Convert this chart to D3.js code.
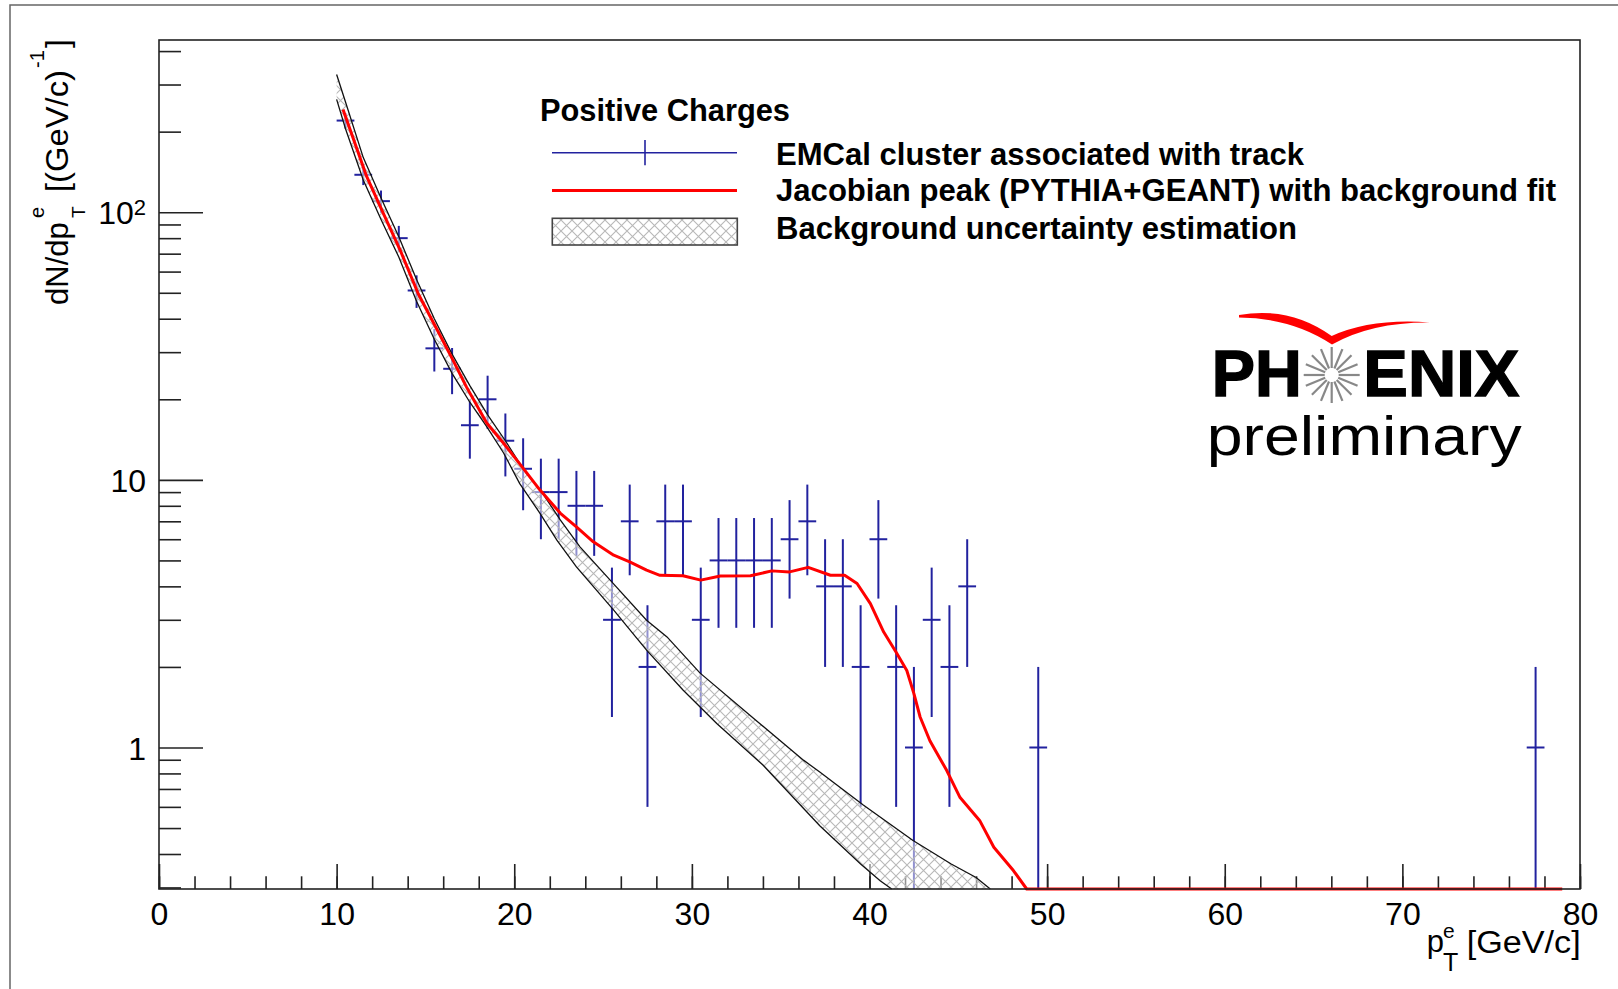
<!DOCTYPE html>
<html>
<head>
<meta charset="utf-8">
<script src="https://cdnjs.cloudflare.com/ajax/libs/d3/7.8.5/d3.min.js"></script>
<style>
body { margin: 0; background: #fff; }
text { font-family: "Liberation Sans", Arial, sans-serif; }
</style>
</head>
<body>
<div id="chart-area"></div>
<script>
const MARGIN = { LEFT: 159, RIGHT: 38, TOP: 40, BOTTOM: 100 }
const WIDTH = 1618 - MARGIN.LEFT - MARGIN.RIGHT
const HEIGHT = 889 - MARGIN.TOP

// ---- data ----
// histogram: 1 GeV bins, counts and their errors
const binCenters = [10.5, 11.5, 12.5, 13.5, 14.5, 15.5, 16.5, 17.5, 18.5, 19.5,
	20.5, 21.5, 22.5, 23.5, 24.5, 25.5, 26.5, 27.5, 28.5, 29.5,
	30.5, 31.5, 32.5, 33.5, 34.5, 35.5, 36.5, 37.5, 38.5, 39.5,
	40.5, 41.5, 42.5, 43.5, 44.5, 45.5, 49.5, 77.5]
const counts = [220, 138, 110, 80, 51, 31, 26, 16, 20, 14,
	11, 9, 9, 8, 8, 3, 7, 2, 7, 7,
	3, 5, 5, 5, 5, 6, 7, 4, 4, 2,
	6, 2, 1, 3, 2, 4, 1, 1]
const countErrors = [14.8, 11.7, 10.5, 8.9, 7.1, 5.6, 5.1, 4.0, 4.5, 3.7,
	3.3, 3.0, 3.0, 2.8, 2.8, 1.7, 2.6, 1.4, 2.6, 2.6,
	1.7, 2.2, 2.2, 2.2, 2.2, 2.4, 2.6, 2.0, 2.0, 1.4,
	2.4, 1.4, 1.0, 1.7, 1.4, 2.0, 1.0, 1.0]
const binHalfWidth = 0.5

// Jacobian peak + background fit (red)
const fitX = [10.36, 11.69, 12.63, 13.57, 14.6, 15.6, 16.55, 17.3, 18.45, 19.4,
	20.3, 21.45, 22.6, 23.5, 24.45, 25.6, 26.5, 27.45, 28.2, 29.5,
	30.5, 31.6, 33.3, 34.5, 35.5, 36.55, 37.8, 38.6, 39.3, 40.05,
	40.8, 41.5, 42.1, 42.5, 42.85, 43.4, 44.35, 45.1, 46.2, 47.0,
	48.1, 48.85, 79.0]
const fitY = [242, 136, 99, 72.4, 49.5, 37, 28, 22.3, 16.3, 13.7,
	11.5, 9.16, 7.5, 6.67, 5.87, 5.23, 4.94, 4.6, 4.4, 4.38,
	4.22, 4.37, 4.38, 4.57, 4.53, 4.71, 4.40, 4.40, 4.10, 3.45,
	2.70, 2.27, 1.94, 1.59, 1.30, 1.06, 0.82, 0.65, 0.534, 0.424,
	0.347, 0.296, 0.296]

// background uncertainty band
const bandUpX = [10.0, 10.5, 11.5, 12.5, 13.5, 14.5, 15.5, 16.5, 17.5, 18.5,
	19.5, 20.5, 21.6, 22.6, 23.7, 25.4, 27.45, 28.6, 30.45, 33.5,
	36.3, 37.2, 39.65, 42.45, 44.6, 46.0, 46.8]
const bandUpY = [327, 258, 160, 113, 81, 56, 40, 29.5, 22.5, 17.5,
	14.0, 11.0, 8.9, 7.07, 5.62, 4.22, 2.99, 2.59, 1.90, 1.28,
	0.895, 0.81, 0.61, 0.449, 0.367, 0.327, 0.296]
const bandLoX = [10.0, 10.5, 11.5, 12.5, 13.5, 14.5, 15.5, 16.5, 17.5, 18.45,
	19.4, 20.3, 21.45, 22.4, 23.5, 25.6, 27.45, 29.5, 31.4, 34.0,
	37.2, 39.5, 40.6, 41.25]
const bandLoY = [264, 205, 132, 94, 68, 46.5, 33.5, 25, 19.5, 15.8,
	12.6, 9.7, 7.5, 5.95, 4.73, 3.26, 2.31, 1.64, 1.23, 0.86,
	0.51, 0.367, 0.318, 0.296]

// axes
const xDomain = [0, 80]
const yDomain = [0.296, 440]
const xMajorTicks = [0, 10, 20, 30, 40, 50, 60, 70, 80]
const xMinorTicks = d3.range(0, 81, 2)
const yMajorTicks = [1, 10, 100]
const yMinorTicks = [0.3, 0.4, 0.5, 0.6, 0.7, 0.8, 0.9, 2, 3, 4, 5, 6, 7, 8, 9,
	20, 30, 40, 50, 60, 70, 80, 90, 200, 300, 400]

const legendLabels = ["EMCal cluster associated with track",
	"Jacobian peak (PYTHIA+GEANT) with background fit",
	"Background uncertainty estimation"]

const BLUE = "#22229f"
const RED = "#ff0000"

const svg = d3.select("#chart-area").append("svg")
	.attr("width", 1618)
	.attr("height", 989)

const defs = svg.append("defs")
const hatch = defs.append("pattern")
	.attr("id", "hatch")
	.attr("patternUnits", "userSpaceOnUse")
	.attr("width", 11)
	.attr("height", 11)
hatch.append("rect").attr("width", 11).attr("height", 11)
	.attr("fill", "#fff").attr("fill-opacity", 0.5)
hatch.append("path")
	.attr("d", "M-1,-1L12,12M12,-1L-1,12")
	.attr("stroke", "#b8b8b8")
	.attr("stroke-width", 1.1)

defs.append("clipPath").attr("id", "plot-clip")
	.append("rect")
	.attr("x", 0).attr("y", 0)
	.attr("width", WIDTH).attr("height", HEIGHT + 2)

// canvas border
svg.append("rect")
	.attr("x", 10).attr("y", 5)
	.attr("width", 1700).attr("height", 1100)
	.attr("fill", "none")
	.attr("stroke", "#666")
	.attr("stroke-width", 1.5)

const g = svg.append("g")
	.attr("transform", `translate(${MARGIN.LEFT}, ${MARGIN.TOP})`)

// scales
const x = d3.scaleLinear().domain(xDomain).range([0, WIDTH])
const y = d3.scaleLog().domain(yDomain).range([HEIGHT, 0]).clamp(true)

// axis generators
const xMinorCall = d3.axisBottom(x).tickValues(xMinorTicks).tickSize(-12.7).tickFormat("")
const xMajorCall = d3.axisBottom(x).tickValues(xMajorTicks).tickSize(-25).tickPadding(13)
const yMinorCall = d3.axisLeft(y).tickValues(yMinorTicks).tickSize(-22).tickFormat("")
const yMajorCall = d3.axisLeft(y).tickValues(yMajorTicks).tickSize(-44).tickPadding(13)
	.tickFormat(d => d === 100 ? "10" : d)

function styleAxis(sel) {
	sel.select(".domain").remove()
	sel.selectAll("line").attr("stroke", "#222").attr("stroke-width", 1.6)
	sel.selectAll("text")
		.attr("fill", "#000")
		.attr("font-size", 32)
		.attr("font-family", "'Liberation Sans', Arial, sans-serif")
}

g.append("g").attr("transform", `translate(0, ${HEIGHT})`).call(xMinorCall).call(styleAxis)
g.append("g").attr("transform", `translate(0, ${HEIGHT})`).call(xMajorCall).call(styleAxis)
g.append("g").call(yMinorCall).call(styleAxis)
const yAxis = g.append("g").call(yMajorCall).call(styleAxis)
yAxis.selectAll("text").attr("dy", "0.36em")
yAxis.selectAll(".tick").filter(d => d === 100).select("text")
	.append("tspan")
	.attr("dy", "-0.42em")
	.attr("font-size", 22)
	.text("2")

// error bars
const plot = g.append("g").attr("clip-path", "url(#plot-clip)")
const points = binCenters.map((c, i) => ({ c, v: counts[i], e: countErrors[i] }))

const bars = plot.append("g")
	.attr("stroke", BLUE)
	.attr("stroke-width", 2)
bars.selectAll(".vbar").data(points).enter().append("line")
	.attr("x1", d => x(d.c)).attr("x2", d => x(d.c))
	.attr("y1", d => y(Math.max(d.v - d.e, 1e-3)))
	.attr("y2", d => y(d.v + d.e))
bars.selectAll(".hbar").data(points).enter().append("line")
	.attr("x1", d => x(d.c - binHalfWidth)).attr("x2", d => x(d.c + binHalfWidth))
	.attr("y1", d => y(d.v)).attr("y2", d => y(d.v))

// uncertainty band
const line = d3.line().x(d => x(d[0])).y(d => y(d[1]))
const upper = bandUpX.map((v, i) => [v, bandUpY[i]])
const lower = bandLoX.map((v, i) => [v, bandLoY[i]])

plot.append("path")
	.attr("d", line(upper.concat(lower.slice().reverse())) + "Z")
	.attr("fill", "url(#hatch)")
	.attr("stroke", "none")
plot.selectAll(".band-edge").data([upper, lower]).enter().append("path")
	.attr("d", d => line(d))
	.attr("fill", "none")
	.attr("stroke", "#111")
	.attr("stroke-width", 1.3)

// fit curve
plot.append("path")
	.attr("d", line(fitX.map((v, i) => [v, fitY[i]])))
	.attr("fill", "none")
	.attr("stroke", RED)
	.attr("stroke-width", 3)
	.attr("stroke-linejoin", "round")

// frame
g.append("rect")
	.attr("width", WIDTH).attr("height", HEIGHT)
	.attr("fill", "none")
	.attr("stroke", "#222")
	.attr("stroke-width", 1.6)

// X title
const xTitle = svg.append("g")
xTitle.append("text").attr("x", 1426.7).attr("y", 951.7).attr("font-size", 31).text("p")
xTitle.append("text").attr("x", 1443).attr("y", 938).attr("font-size", 21).text("e")
xTitle.append("text").attr("x", 1443).attr("y", 971).attr("font-size", 25).text("T")
xTitle.append("text").attr("x", 1466.7).attr("y", 953).attr("font-size", 31)
	.attr("textLength", 114).attr("lengthAdjust", "spacingAndGlyphs").text("[GeV/c]")

// Y title (rotated)
const yTitle = svg.append("g").attr("transform", "translate(68, 305) rotate(-90)")
yTitle.append("text").attr("x", 0).attr("y", 0).attr("font-size", 31).text("dN/dp")
yTitle.append("text").attr("x", 87).attr("y", 17).attr("font-size", 19).text("T")
yTitle.append("text").attr("x", 87).attr("y", -24).attr("font-size", 20).text("e")
yTitle.append("text").attr("x", 113).attr("y", 0).attr("font-size", 31)
	.attr("textLength", 122).attr("lengthAdjust", "spacingAndGlyphs").text("[(GeV/c)")
yTitle.append("text").attr("x", 237).attr("y", -24).attr("font-size", 20).text("-1")
yTitle.append("text").attr("x", 257).attr("y", 0).attr("font-size", 31).text("]")

// legend
const legend = svg.append("g").attr("font-weight", "bold").attr("font-size", 31)
legend.append("text")
	.attr("x", 540).attr("y", 121)
	.attr("textLength", 250).attr("lengthAdjust", "spacingAndGlyphs")
	.text("Positive Charges")

legend.append("line")
	.attr("x1", 552).attr("x2", 737).attr("y1", 152.7).attr("y2", 152.7)
	.attr("stroke", BLUE).attr("stroke-width", 1.6)
legend.append("line")
	.attr("x1", 645).attr("x2", 645).attr("y1", 140).attr("y2", 165.3)
	.attr("stroke", BLUE).attr("stroke-width", 1.6)
legend.append("line")
	.attr("x1", 552).attr("x2", 737).attr("y1", 190.5).attr("y2", 190.5)
	.attr("stroke", RED).attr("stroke-width", 3)
legend.append("rect")
	.attr("x", 552.3).attr("y", 218.3).attr("width", 185).attr("height", 26.7)
	.attr("fill", "url(#hatch)")
	.attr("stroke", "#444").attr("stroke-width", 1.6)

const legendBaselines = [164.5, 200.5, 239]
const legendWidths = [528, 780, 521]
legend.selectAll(".entry").data(legendLabels).enter().append("text")
	.attr("x", 776)
	.attr("y", (d, i) => legendBaselines[i])
	.attr("textLength", (d, i) => legendWidths[i])
	.attr("lengthAdjust", "spacingAndGlyphs")
	.text(d => d)

// PHENIX logo
const logo = svg.append("g")
logo.append("path")
	.attr("d", "M1239,315 Q1290,306 1331.7,336 Q1372,318 1430,322.5 Q1372,322 1332,344.5 Q1292,318 1239,317.5 Z")
	.attr("fill", RED)
logo.append("text")
	.attr("x", 1211.7).attr("y", 396)
	.attr("font-size", 64).attr("font-weight", "bold")
	.attr("stroke", "#000").attr("stroke-width", 1.4)
	.attr("textLength", 90).attr("lengthAdjust", "spacingAndGlyphs")
	.text("PH")
logo.append("text")
	.attr("x", 1363.3).attr("y", 396)
	.attr("font-size", 64).attr("font-weight", "bold")
	.attr("stroke", "#000").attr("stroke-width", 1.4)
	.attr("textLength", 156).attr("lengthAdjust", "spacingAndGlyphs")
	.text("ENIX")
const star = logo.append("g").attr("transform", "translate(1331.7, 375)")
star.selectAll("line").data(d3.range(16)).enter().append("line")
	.attr("x1", d => 7 * Math.cos(d * Math.PI / 8))
	.attr("y1", d => 7 * Math.sin(d * Math.PI / 8))
	.attr("x2", d => 28 * Math.cos(d * Math.PI / 8))
	.attr("y2", d => 28 * Math.sin(d * Math.PI / 8))
	.attr("stroke", "#888")
	.attr("stroke-width", 2.2)
logo.append("text")
	.attr("x", 1206.7).attr("y", 455)
	.attr("font-family", "'DejaVu Sans', sans-serif")
	.attr("font-size", 56)
	.attr("textLength", 315).attr("lengthAdjust", "spacingAndGlyphs")
	.text("preliminary")
</script>
</body>
</html>
